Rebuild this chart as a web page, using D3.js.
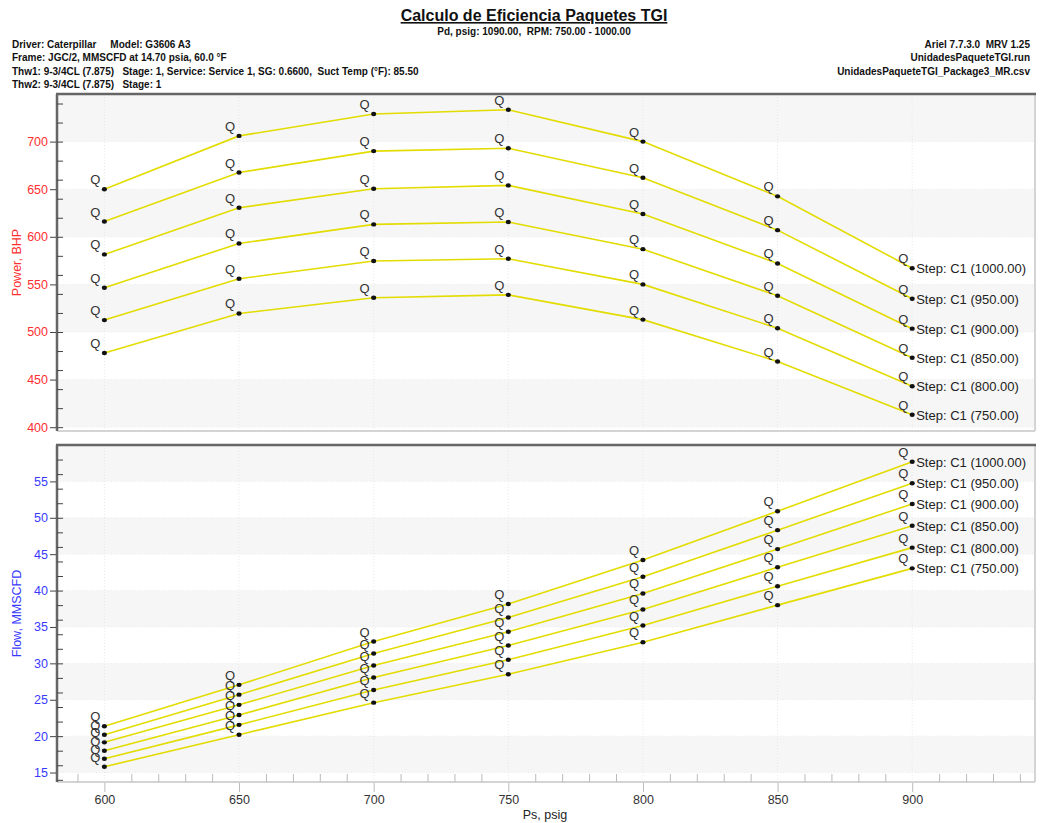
<!DOCTYPE html>
<html><head><meta charset="utf-8">
<script src="https://cdn.jsdelivr.net/npm/d3@7"></script>
<style>
body{margin:0;background:#fff;}
svg text{font-family:"Liberation Sans",Arial,sans-serif;white-space:pre;}
</style></head>
<body><svg id="c" width="1063" height="823"></svg>
<script>
const psValues = [600, 650, 700, 750, 800, 850, 900];
const rpmSteps = ["1000.00", "950.00", "900.00", "850.00", "800.00", "750.00"];
const power1000 = [650, 706, 729, 733.5, 700, 642.5, 567];
const power950  = [616, 667.5, 690, 693, 662, 607, 535];
const power900  = [581.5, 630.5, 650.5, 654, 624, 572, 503.5];
const power850  = [546.5, 593, 613, 615.5, 587, 538, 473];
const power800  = [512.5, 556, 574.5, 577, 550, 504, 443];
const power750  = [478, 519.5, 536, 539, 513, 469, 413];
const flow1000 = [21.35, 27.05, 33.0, 38.15, 44.2, 50.9, 57.7];
const flow950  = [20.2, 25.7, 31.35, 36.3, 41.9, 48.3, 54.75];
const flow900  = [19.15, 24.3, 29.7, 34.35, 39.6, 45.7, 51.9];
const flow850  = [18.0, 22.9, 28.05, 32.45, 37.4, 43.2, 48.9];
const flow800  = [16.9, 21.55, 26.35, 30.5, 35.2, 40.6, 45.9];
const flow750  = [15.8, 20.2, 24.6, 28.5, 32.9, 38.0, 43.05];
const powerSeries = [power1000, power950, power900, power850, power800, power750];
const flowSeries = [flow1000, flow950, flow900, flow850, flow800, flow750];
const xTickLabels = [600, 650, 700, 750, 800, 850, 900];
const powerTickLabels = [400, 450, 500, 550, 600, 650, 700];
const flowTickLabels = [15, 20, 25, 30, 35, 40, 45, 50, 55];

const title = "Calculo de Eficiencia Paquetes TGI";
const subtitle = "Pd, psig: 1090.00,  RPM: 750.00 - 1000.00";
const leftHeader = ["Driver: Caterpillar     Model: G3606 A3",
  "Frame: JGC/2, MMSCFD at 14.70 psia, 60.0 °F",
  "Thw1: 9-3/4CL (7.875)   Stage: 1, Service: Service 1, SG: 0.6600,  Suct Temp (°F): 85.50",
  "Thw2: 9-3/4CL (7.875)   Stage: 1"];
const rightHeader = ["Ariel 7.7.3.0  MRV 1.25", "UnidadesPaqueteTGI.run", "UnidadesPaqueteTGI_Package3_MR.csv"];

const svg = d3.select("#c");
const L = 57, R = 1035;
const x = d3.scaleLinear().domain([582.4, 945.6]).range([L, R]);

// Header
svg.append("text").attr("x", 534).attr("y", 21).attr("text-anchor", "middle")
  .attr("font-size", 16).attr("font-weight", "bold").attr("text-decoration", "underline").attr("fill", "#111").text(title);
svg.append("text").attr("x", 534).attr("y", 35).attr("text-anchor", "middle")
  .attr("font-size", 10).attr("font-weight", "bold").attr("fill", "#111").text(subtitle);
leftHeader.forEach((t, i) => svg.append("text").attr("x", 12).attr("y", 48 + i * 13.3)
  .attr("font-size", 10).attr("font-weight", "bold").attr("fill", "#111").text(t));
rightHeader.forEach((t, i) => svg.append("text").attr("x", 1030).attr("y", 48 + i * 13.3).attr("text-anchor", "end")
  .attr("font-size", 10).attr("font-weight", "bold").attr("fill", "#111").text(t));

function panel(cfg) {
  const { top, bottom, domain, bandStep, bandOffset, minorStep, labels, series, color, axisTitle, showX } = cfg;
  const y = d3.scaleLinear().domain(domain).range([bottom, top]);
  const g = svg.append("g");
  // alternating bands
  const period = bandStep * 2;
  const first = Math.floor((domain[0] - bandOffset) / period) * period + bandOffset;
  d3.range(first, domain[1], period).forEach(b => {
    const y0 = Math.min(bottom, y(b)), y1 = Math.max(top, y(b + bandStep));
    if (y0 > y1) g.append("rect").attr("x", L).attr("width", R - L).attr("y", y1).attr("height", y0 - y1).attr("fill", "#f6f6f6");
  });
  // faint grid
  xTickLabels.forEach(v => g.append("line").attr("x1", x(v)).attr("x2", x(v)).attr("y1", top).attr("y2", bottom)
    .attr("stroke", "#e8e8e8").attr("stroke-dasharray", "1,2"));
  labels.forEach(v => g.append("line").attr("x1", L).attr("x2", R).attr("y1", y(v)).attr("y2", y(v))
    .attr("stroke", "#ececec").attr("stroke-dasharray", "1,2"));
  // frame
  g.append("line").attr("x1", R).attr("x2", R).attr("y1", top).attr("y2", bottom).attr("stroke", "#d4d4d4").attr("stroke-width", 2);
  g.append("line").attr("x1", L).attr("x2", R).attr("y1", bottom).attr("y2", bottom).attr("stroke", "#d4d4d4").attr("stroke-width", 2);
  g.append("line").attr("x1", L - 1).attr("x2", R + 1).attr("y1", top).attr("y2", top).attr("stroke", "#666").attr("stroke-width", 2.5);
  g.append("line").attr("x1", L).attr("x2", L).attr("y1", top).attr("y2", bottom).attr("stroke", "#666").attr("stroke-width", 2.5);
  // y axis minor ticks (inside)
  const minor = d3.range(Math.ceil(domain[0] / minorStep) * minorStep, domain[1], minorStep);
  const yMinor = d3.axisRight(y).tickValues(minor).tickSize(6).tickFormat("");
  const ym = g.append("g").attr("transform", `translate(${L},0)`).call(yMinor);
  ym.select(".domain").remove();
  ym.selectAll("line").attr("stroke", "#444");
  const yMajor = d3.axisLeft(y).tickValues(labels).tickSize(6).tickPadding(2).tickFormat(d3.format("d"));
  const yM = g.append("g").attr("transform", `translate(${L - 1},0)`).call(yMajor);
  yM.select(".domain").remove();
  yM.selectAll("line").attr("stroke", "#444");
  yM.selectAll("text").attr("fill", color).attr("font-size", 12.5).attr("font-family", "Liberation Sans, Arial");
  g.append("text").attr("transform", `translate(21,${(top + bottom) / 2}) rotate(-90)`).attr("text-anchor", "middle")
    .attr("font-size", 12.5).attr("fill", color).text(axisTitle);
  if (showX) {
    const xMinor = d3.axisTop(x).tickValues(d3.range(590, 945, 10).filter(v => v % 50 !== 0)).tickSize(8).tickFormat("");
    const xm = g.append("g").attr("transform", `translate(0,${bottom})`).call(xMinor);
    xm.select(".domain").remove();
    xm.selectAll("line").attr("stroke", "#bbb");
    const xMaj = d3.axisBottom(x).tickValues(xTickLabels).tickSize(9).tickPadding(3).tickFormat(d3.format("d"));
    const xM = g.append("g").attr("transform", `translate(0,${bottom + 1})`).call(xMaj);
    xM.select(".domain").remove();
    xM.selectAll("line").attr("stroke", "#bbb");
    xM.selectAll("text").attr("fill", "#333").attr("font-size", 12.5).attr("font-family", "Liberation Sans, Arial");
  }
  // series
  const line = d3.line().x((d, i) => x(psValues[i])).y(d => y(d));
  series.forEach(s => {
    g.append("path").datum(s).attr("d", line).attr("fill", "none").attr("stroke", "#e3dc00").attr("stroke-width", 1.6);
  });
  series.forEach((s, k) => {
    s.forEach((v, i) => {
      g.append("text").attr("x", x(psValues[i]) - 9).attr("y", y(v) - 5).attr("text-anchor", "middle")
        .attr("font-size", 13).attr("fill", "#333").text("Q");
      g.append("ellipse").attr("cx", x(psValues[i])).attr("cy", y(v)).attr("rx", 2.6).attr("ry", 2.2).attr("fill", "#111");
    });
    const last = s.length - 1;
    g.append("text").attr("x", x(psValues[last]) + 4).attr("y", y(s[last]) + 5)
      .attr("font-size", 13).attr("fill", "#222").text(`Step: C1 (${rpmSteps[k]})`);
  });
}

panel({ top: 94, bottom: 431, domain: [396, 750], bandStep: 50, bandOffset: 0, minorStep: 20,
  labels: powerTickLabels, series: powerSeries, color: "#ff3030", axisTitle: "Power, BHP", showX: false });
panel({ top: 445, bottom: 782, domain: [13.7, 60], bandStep: 5, bandOffset: 5, minorStep: 2,
  labels: flowTickLabels, series: flowSeries, color: "#3a3aff", axisTitle: "Flow, MMSCFD", showX: true });

svg.append("text").attr("x", 545).attr("y", 819).attr("text-anchor", "middle").attr("font-size", 12.5)
  .attr("fill", "#222").text("Ps, psig");
</script></body></html>
